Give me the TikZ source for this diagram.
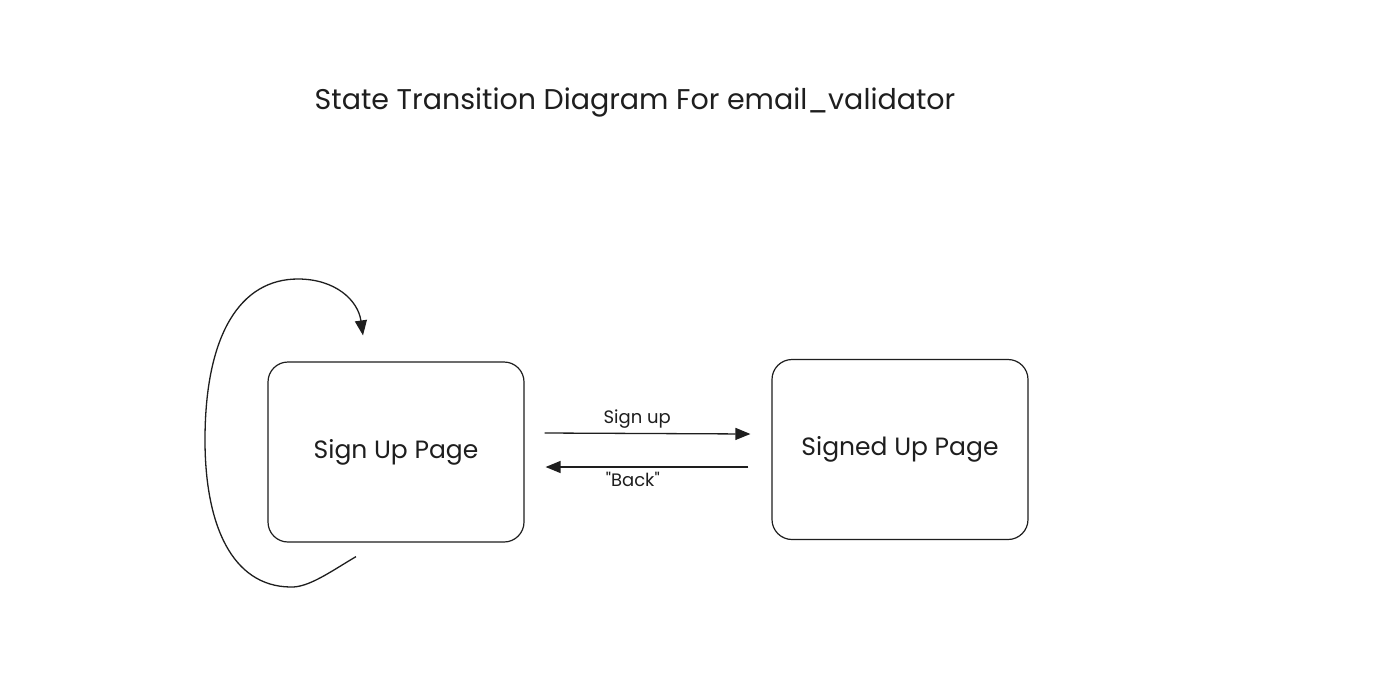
\documentclass[tikz,border=0pt]{standalone}
\usepackage{fontspec}
\setmainfont{Poppins}
\usetikzlibrary{arrows.meta,calc}
\definecolor{ink}{HTML}{1E1E1E}
\tikzset{
  statebox/.style={draw=ink, line width=1.2pt, rounded corners=20pt,
    minimum width=256pt, minimum height=180pt, text=ink,
    font=\fontsize{25}{28}\selectfont},
  transition/.style={draw=ink, line width=1.3pt,
    -{Triangle[length=15pt,width=12pt]}},
  edgelabel/.style={text=ink, font=\fontsize{18}{21}\selectfont}
}
\begin{document}
\begin{tikzpicture}[x=1pt,y=-1pt]
\useasboundingbox[fill=white] (0,0) rectangle (1391,675);

% title
\node[text=ink, font=\fontsize{28.5}{32}\selectfont] (title) at (635,102) {State Transition Diagram For email\_validator};

% states
\node[statebox] (signup) at (396,452) {Sign Up Page};
\node[statebox] (signedup) at (900,449.5) {Signed Up Page};

% transitions between the two pages
\draw[transition] ([xshift=20pt,yshift=19pt]signup.east) -- node[edgelabel, above=1pt, pos=0.45] (lsign) {Sign up} ([xshift=-21pt,yshift=15.5pt]signedup.west);
\draw[transition] ([xshift=-23pt,yshift=-17.5pt]signedup.west) -- node[edgelabel, below=1pt, pos=0.57] (lback) {\textquotedbl Back\textquotedbl} ([xshift=21pt,yshift=-15pt]signup.east);

% self loop around the sign-up page
\coordinate (loopstart) at ([xshift=-40pt,yshift=-14pt]signup.south);
\coordinate (loopend) at ([xshift=-33pt,yshift=26pt]signup.north);
\draw[transition] (loopstart)
  .. controls (330,572) and (308,588) .. (290,587)
  .. controls (232,586) and (205,525) .. (205,440)
  .. controls (205,335) and (240,279) .. (298,279)
  .. controls (335,279) and (358,300) .. (loopend);
\end{tikzpicture}
\end{document}
